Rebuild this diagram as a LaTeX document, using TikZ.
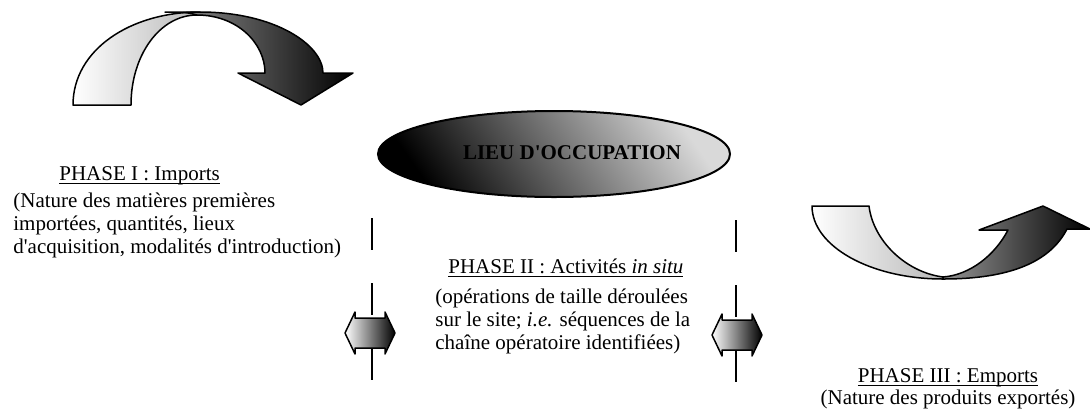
\documentclass[tikz,border=0pt]{standalone}
\usepackage{fontspec}
\setmainfont{Liberation Serif}[Ligatures=TeXOff]
\usetikzlibrary{shapes.geometric}

% underlined phase title and left aligned phase text
\newsavebox\phasebox
\newcommand\phasetitle[1]{\sbox\phasebox{#1}\rlap{\rule[-2pt]{\wd\phasebox}{0.6pt}}\usebox\phasebox}
\newcommand\phasetext[1]{\begin{tabular}[t]{@{}l@{}}#1\end{tabular}}

\begin{document}
\begin{tikzpicture}[x=0.5pt, y=-0.5pt,
    txt/.style={font=\fontsize{10.5}{11.6}\selectfont, inner sep=0pt},
    contour/.style={draw=black, line width=0.75pt, line join=round},
    pale/.style={contour, left color=white, right color=black!28},
    sombre/.style={contour, left color=black!42, right color=black},
    fleche/.style={contour, left color=white, right color=black},
    limite/.style={line width=1.3pt, dash pattern=on 16pt off 16.5pt}]

    \useasboundingbox (0,0) rectangle (1090,408);

    % Curved arrow, phase I
    \path[pale] (73,105) .. controls (73,50) and (130,12) .. (200,12) -- (197,15)
        .. controls (160,15) and (131,55) .. (131,105) -- cycle;
    \path[sombre] (197,15) .. controls (185,12) .. (165,12) -- (200,12)
        .. controls (275,12) and (323,45) .. (323,73) -- (353,73) -- (301,105)
        -- (238,73) -- (265,73) .. controls (265,43) and (237,15) .. (197,15) -- cycle;

    % Site
    \node[ellipse, draw=black, line width=1pt, minimum width=176pt, minimum height=43pt,
        left color=black, right color=black!15, shading angle=125] (lieu) at (554,154) {};
    \node[txt, font=\fontsize{10.5}{11.6}\selectfont\bfseries] (nomlieu) at (572,153) {LIEU D'OCCUPATION};

    % Limits of the site
    \path[fleche, shift={(370,333)}] (-25,0) -- (-15,-21) -- (-15,-15) -- (15,-15) -- (15,-21)
        -- (25,0) -- (15,21) -- (15,15) -- (-15,15) -- (-15,21) -- cycle;
    \path[fleche, shift={(737,335)}] (-25,0) -- (-15,-21) -- (-15,-15) -- (15,-15) -- (15,-21)
        -- (25,0) -- (15,21) -- (15,15) -- (-15,15) -- (-15,21) -- cycle;
    \draw[limite] (372,218) -- (372,382);
    \draw[limite] (736,220) -- (736,382);

    % Curved arrow, phase III
    \path[pale] (812,206) -- (869,206) .. controls (873,240) and (905,272) .. (943,277)
        -- (943,279) .. controls (870,279) and (812,246) .. (812,206) -- cycle;
    \path[sombre] (943,277) .. controls (970,275) and (995,255) .. (1008,230) -- (979,230)
        -- (1043,206) -- (1090,229) -- (1067,229) .. controls (1050,262) and (1010,279) .. (943,279) -- cycle;

    % Texts
    \node[txt, anchor=base west] (titreI) at (59,180) {\phasetitle{PHASE I : Imports}};
    \node[txt, anchor=base west] (texteI) at (13,207) {\phasetext{(Nature des matières premières\\
        importées, quantités, lieux\\d'acquisition, modalités d'introduction)}};
    \node[txt, anchor=base west] (titreII) at (448,273) {\phasetitle{PHASE II : Activités \textit{in situ}}};
    \node[txt, anchor=base west] (texteII) at (435,303) {\phasetext{(opérations de taille déroulées\\
        sur le site; \textit{i.e.} séquences de la\\chaîne opératoire identifiées)}};
    \node[txt, anchor=base] (titreIII) at (948,382) {\phasetitle{PHASE III : Emports}};
    \node[txt, anchor=base] (texteIII) at (948,404) {(Nature des produits exportés)};

\end{tikzpicture}
\end{document}
